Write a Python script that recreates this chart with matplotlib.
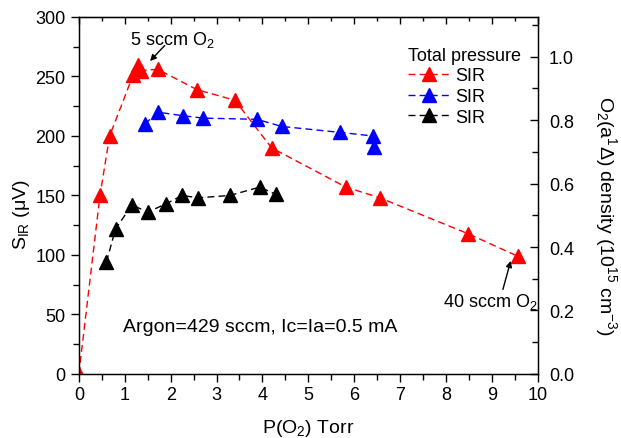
import matplotlib
matplotlib.use("Agg")
import matplotlib.pyplot as plt
from matplotlib.ticker import MultipleLocator, FormatStrFormatter

plt.rcParams['font.family'] = ['Liberation Sans', 'DejaVu Sans']
plt.rcParams['mathtext.fontset'] = 'custom'
plt.rcParams['mathtext.rm'] = 'Liberation Sans'
plt.rcParams['mathtext.it'] = 'Liberation Sans'

# P(O2) [Torr] and S_IR [uV] for each series
red_x = [0.0, 0.46, 0.67, 1.18, 1.29, 1.35, 1.72, 2.57, 3.40, 4.20, 5.82, 6.56, 8.47, 9.56]
red_y = [0, 150, 200, 251, 260, 255, 256, 239, 230, 190, 157, 148, 118, 99]

blue_x = [1.44, 1.72, 2.27, 2.71, 3.88, 4.42, 5.69, 6.41, 6.43]
blue_y = [210, 220, 217, 215, 214, 208, 203, 200, 191]

black_x = [0.60, 0.80, 1.16, 1.50, 1.90, 2.25, 2.60, 3.29, 3.94, 4.29]
black_y = [94, 122, 142, 136, 143, 150, 148, 150, 157, 151]

series_labels = ["SIR", "SIR", "SIR"]

fig = plt.figure(figsize=(6.21, 4.39), dpi=100)
ax = fig.add_axes([0.127, 0.146, 0.739, 0.813])

dash = (0, (5, 3))
kw = dict(marker='^', markersize=10, linewidth=1.0, linestyle=dash)
ax.plot(red_x, red_y, color='#ff0000', label=series_labels[0], **kw)
ax.plot(blue_x, blue_y, color='#0000ff', label=series_labels[1], **kw)
ax.plot(black_x, black_y, color='#000000', label=series_labels[2], **kw)

ax.set_xlim(0, 10)
ax.set_ylim(0, 300)
ax.xaxis.set_major_locator(MultipleLocator(1))
ax.xaxis.set_minor_locator(MultipleLocator(0.5))
ax.yaxis.set_major_locator(MultipleLocator(50))
ax.yaxis.set_minor_locator(MultipleLocator(25))
ax.tick_params(axis='both', which='major', direction='out', length=6, width=1,
               labelsize=13, top=False, right=False)
ax.tick_params(axis='both', which='minor', direction='out', length=4, width=1,
               top=False, right=False)
ax.tick_params(axis='x', which='major', pad=3)
for s in ax.spines.values():
    s.set_linewidth(1.0)

ax.set_xlabel("P(O$_2$) Torr", fontsize=14, labelpad=10)
ax.set_ylabel("S$_{IR}$ ($\\mu$V)", fontsize=14, va='center', ha='center',
              rotation_mode='anchor')
ax.yaxis.set_label_coords(-0.124, 0.448)

# top axis: ticks only, pointing inward
secx = ax.secondary_xaxis('top')
secx.xaxis.set_major_locator(MultipleLocator(1))
secx.xaxis.set_minor_locator(MultipleLocator(0.5))
secx.tick_params(which='major', direction='in', length=5, width=1, labeltop=False)
secx.tick_params(which='minor', direction='in', length=3, width=1, labeltop=False)

# right axis: singlet oxygen density
ax2 = ax.twinx()
ax2.set_ylim(0, 1.125)
ax2.yaxis.set_major_locator(MultipleLocator(0.2))
ax2.yaxis.set_minor_locator(MultipleLocator(0.1))
ax2.tick_params(which='major', direction='in', length=6, width=1, labelsize=13, pad=8)
ax2.tick_params(which='minor', direction='in', length=4, width=1)
ax2.yaxis.set_major_formatter(FormatStrFormatter('%.1f'))
ax2.set_ylabel("O$_2$(a$^1\\Delta$) density (10$^{15}$ cm$^{-3}$)", fontsize=14,
               rotation=270, va='center', ha='center', rotation_mode='anchor')
ax2.yaxis.set_label_coords(1.148, 0.445)

leg = ax.legend(loc='upper left', bbox_to_anchor=(0.69, 0.952), frameon=False,
                title="Total pressure", fontsize=13, title_fontsize=13,
                handlelength=2.35, handletextpad=0.25, labelspacing=0.2,
                borderpad=0.2, alignment='left')

ax.text(1.11, 277, "5 sccm O$_2$", fontsize=13, ha='left', va='baseline')
ax.annotate("", xy=(1.55, 263), xytext=(1.87, 276),
            arrowprops=dict(arrowstyle='-|>', color='black', lw=1,
                            mutation_scale=9, shrinkA=0, shrinkB=0))

ax.text(7.93, 57, "40 sccm O$_2$", fontsize=13, ha='left', va='baseline')
ax.annotate("", xy=(9.41, 95), xytext=(9.24, 71),
            arrowprops=dict(arrowstyle='-|>', color='black', lw=1,
                            mutation_scale=9, shrinkA=0, shrinkB=0))

ax.text(0.96, 40, "Argon=429 sccm, Ic=Ia=0.5 mA", fontsize=14, ha='left', va='center')

fig.savefig("out.png", dpi=100)
